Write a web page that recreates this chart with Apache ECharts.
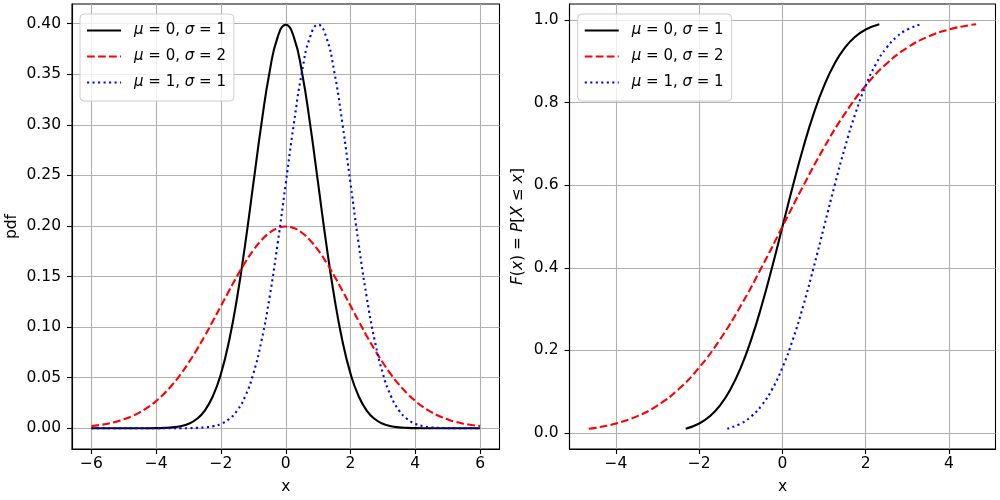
<!DOCTYPE html>
<html>
<head>
<meta charset="utf-8">
<script src="https://cdn.jsdelivr.net/npm/echarts@6/dist/echarts.min.js"></script>
<style>
  html, body { margin: 0; padding: 0; background: #fff; }
  #chart { width: 1000px; height: 500px; }
</style>
</head>
<body>
<div id="chart"></div>
<script>
// series names (legend)
const names = ["μ = 0, σ = 1", "μ = 0, σ = 2", "μ = 1, σ = 1"];

// left panel: pdf
const pdfX = [-6, -5.75, -5.5, -5.25, -5, -4.75, -4.5, -4.25, -4, -3.75, -3.5, -3.25, -3, -2.75, -2.5, -2.25,
  -2, -1.75, -1.5, -1.25, -1, -0.75, -0.5, -0.25, 0, 0.25, 0.5, 0.75, 1, 1.25, 1.5, 1.75,
  2, 2.25, 2.5, 2.75, 3, 3.25, 3.5, 3.75, 4, 4.25, 4.5, 4.75, 5, 5.25, 5.5, 5.75, 6];
const pdfStd = [0, 0, 0, 0, 0, 0, 0, 0, 0.0001, 0.0004, 0.0009, 0.0020, 0.0044, 0.0091, 0.0175, 0.0317,
  0.0540, 0.0863, 0.1295, 0.1826, 0.2420, 0.3011, 0.3521, 0.3867, 0.3989, 0.3867, 0.3521, 0.3011, 0.2420, 0.1826, 0.1295, 0.0863,
  0.0540, 0.0317, 0.0175, 0.0091, 0.0044, 0.0020, 0.0009, 0.0004, 0.0001, 0, 0, 0, 0, 0, 0, 0, 0];
const pdfWide = [0.0022, 0.0032, 0.0045, 0.0063, 0.0088, 0.0119, 0.0159, 0.0208, 0.0270, 0.0344, 0.0431, 0.0532, 0.0648, 0.0775, 0.0913, 0.1060,
  0.1210, 0.1359, 0.1506, 0.1641, 0.1760, 0.1859, 0.1933, 0.1979, 0.1995, 0.1979, 0.1933, 0.1859, 0.1760, 0.1641, 0.1506, 0.1359,
  0.1210, 0.1060, 0.0913, 0.0775, 0.0648, 0.0532, 0.0431, 0.0344, 0.0270, 0.0208, 0.0159, 0.0119, 0.0088, 0.0063, 0.0045, 0.0032, 0.0022];
const pdfShift = [0, 0, 0, 0, 0, 0, 0, 0, 0, 0, 0, 0, 0.0001, 0.0004, 0.0009, 0.0020,
  0.0044, 0.0091, 0.0175, 0.0317, 0.0540, 0.0863, 0.1295, 0.1826, 0.2420, 0.3011, 0.3521, 0.3867, 0.3989, 0.3867, 0.3521, 0.3011,
  0.2420, 0.1826, 0.1295, 0.0863, 0.0540, 0.0317, 0.0175, 0.0091, 0.0044, 0.0020, 0.0009, 0.0004, 0.0001, 0, 0, 0, 0];

// right panel: cdf
const cdfStdX = [-2.326, -2, -1.75, -1.5, -1.25, -1, -0.75, -0.5, -0.25, 0, 0.25, 0.5, 0.75, 1, 1.25, 1.5, 1.75, 2, 2.326];
const cdfStdY = [0.01, 0.0228, 0.0401, 0.0668, 0.1056, 0.1587, 0.2266, 0.3085, 0.4013, 0.5, 0.5987, 0.6915, 0.7734, 0.8413, 0.8944, 0.9332, 0.9599, 0.9772, 0.99];
const cdfWideX = [-4.653, -4.5, -4, -3.5, -3, -2.5, -2, -1.5, -1, -0.5, 0, 0.5, 1, 1.5, 2, 2.5, 3, 3.5, 4, 4.5, 4.653];
const cdfWideY = [0.01, 0.0122, 0.0228, 0.0401, 0.0668, 0.1056, 0.1587, 0.2266, 0.3085, 0.4013, 0.5, 0.5987, 0.6915, 0.7734, 0.8413, 0.8944, 0.9332, 0.9599, 0.9772, 0.9878, 0.99];
const cdfShiftX = [-1.326, -1, -0.75, -0.5, -0.25, 0, 0.25, 0.5, 0.75, 1, 1.25, 1.5, 1.75, 2, 2.25, 2.5, 2.75, 3, 3.326];
const cdfShiftY = [0.01, 0.0228, 0.0401, 0.0668, 0.1056, 0.1587, 0.2266, 0.3085, 0.4013, 0.5, 0.5987, 0.6915, 0.7734, 0.8413, 0.8944, 0.9332, 0.9599, 0.9772, 0.99];

// ticks
const leftXTicks = [-6, -4, -2, 0, 2, 4, 6];
const leftYTicks = [0, 0.05, 0.1, 0.15, 0.2, 0.25, 0.3, 0.35, 0.4];
const rightXTicks = [-4, -2, 0, 2, 4];
const rightYTicks = [0, 0.2, 0.4, 0.6, 0.8, 1.0];

const font = "DejaVu Sans";
const fs = 15.5;
const minus = (v) => String(v).replace("-", "\u2212");

const styles = [
  { color: "#000000", type: "solid" },
  { color: "#ff0000", type: [7.7, 3.3] },
  { color: "#0000ff", type: [2.1, 3.4] },
];

const zip = (xs, ys) => xs.map((x, i) => [x, ys[i]]);

function makeX(idx, min, max, ticks) {
  return {
    type: "value", gridIndex: idx, min: min, max: max,
    name: "x", nameLocation: "middle", nameGap: 30,
    nameTextStyle: { fontFamily: font, fontSize: fs, color: "#000" },
    axisLine: { show: true, onZero: false, lineStyle: { color: "#000", width: 1.1 } },
    axisTick: { show: true, inside: false, length: 5, customValues: ticks, lineStyle: { color: "#000", width: 1.1 } },
    axisLabel: { show: true, margin: 7, customValues: ticks, fontFamily: font, fontSize: fs, color: "#000", formatter: (v) => minus(v) },
    splitLine: { show: true, lineStyle: { color: "#b0b0b0", width: 1.1 } },
  };
}
function makeY(idx, min, max, ticks, digits, name, gap) {
  return {
    type: "value", gridIndex: idx, min: min, max: max,
    name: name, nameLocation: "middle", nameGap: gap,
    nameTextStyle: {
      fontFamily: font, fontSize: fs, color: "#000",
      rich: { i: { fontFamily: font, fontSize: fs, fontStyle: "italic", color: "#000" } },
    },
    axisLine: { show: true, onZero: false, lineStyle: { color: "#000", width: 1.1 } },
    axisTick: { show: true, inside: false, length: 5, customValues: ticks, lineStyle: { color: "#000", width: 1.1 } },
    axisLabel: { show: true, margin: 11, customValues: ticks, fontFamily: font, fontSize: fs, color: "#000", formatter: (v) => v.toFixed(digits) },
    splitLine: { show: true, lineStyle: { color: "#b0b0b0", width: 1.1 } },
  };
}
function makeLegend(left) {
  return {
    orient: "vertical", left: left, top: 14,
    data: names,
    itemWidth: 34, itemHeight: 14, itemGap: 11,
    padding: [9, 8, 11, 6],
    backgroundColor: "rgba(255,255,255,0.8)",
    borderColor: "#cccccc", borderWidth: 1, borderRadius: 4,
    selectedMode: false,
    itemStyle: { opacity: 0 },
    lineStyle: { width: 2.1, cap: "butt" },
    formatter: (n) => n.replace("μ", "{i|μ}").replace("σ", "{i|σ}"),
    textStyle: {
      fontFamily: font, fontSize: 15, color: "#000", padding: [0, 0, 0, 8],
      rich: { i: { fontFamily: font, fontSize: 15, fontStyle: "italic", color: "#000" } },
    },
  };
}
function makeSeries(k, xi, data) {
  return {
    type: "line", name: names[k], xAxisIndex: xi, yAxisIndex: xi,
    data: data, showSymbol: false, symbol: "none", smooth: 0.5,
    lineStyle: { color: styles[k].color, type: styles[k].type, width: 2.1, cap: "butt" },
    itemStyle: { color: styles[k].color },
    animation: false,
  };
}

const chart = echarts.init(document.getElementById("chart"), null, { renderer: "canvas" });
chart.setOption({
  animation: false,
  backgroundColor: "#fff",
  grid: [
    { left: 72, right: 500.5, top: 4, bottom: 48.7, show: true, borderColor: "#000", borderWidth: 1.1, containLabel: false },
    { left: 569.5, right: 4.5, top: 4, bottom: 48.7, show: true, borderColor: "#000", borderWidth: 1.1, containLabel: false },
  ],
  xAxis: [
    makeX(0, -6.6, 6.6, leftXTicks),
    makeX(1, -5.118, 5.118, rightXTicks),
  ],
  yAxis: [
    makeY(0, -0.0205, 0.4194, leftYTicks, 2, "pdf", 52),
    makeY(1, -0.039, 1.039, rightYTicks, 1, "{i|F}({i|x}) = {i|P}[{i|X} ≤ {i|x}]", 44),
  ],
  legend: [makeLegend(80), makeLegend(577.7)],
  series: [
    makeSeries(0, 0, zip(pdfX, pdfStd)),
    makeSeries(1, 0, zip(pdfX, pdfWide)),
    makeSeries(2, 0, zip(pdfX, pdfShift)),
    makeSeries(0, 1, zip(cdfStdX, cdfStdY)),
    makeSeries(1, 1, zip(cdfWideX, cdfWideY)),
    makeSeries(2, 1, zip(cdfShiftX, cdfShiftY)),
  ],
});
</script>
</body>
</html>
